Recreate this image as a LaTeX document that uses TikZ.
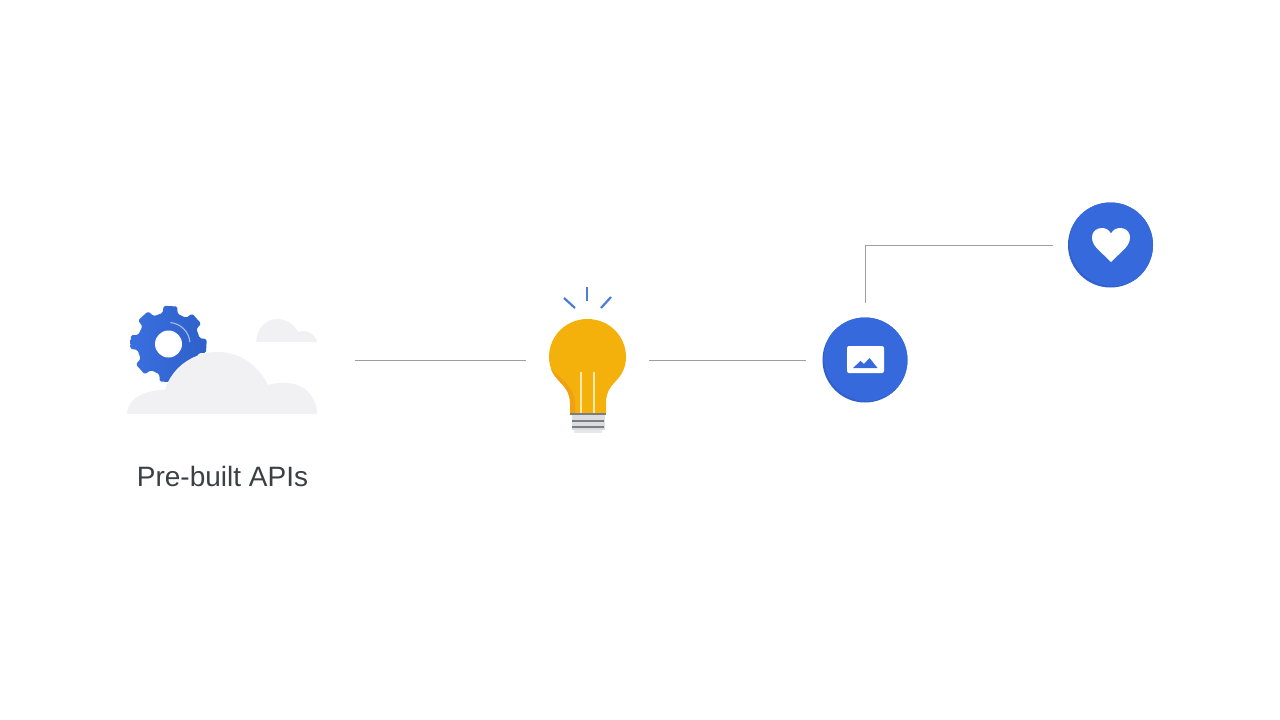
\documentclass[tikz,border=0pt]{standalone}
\usepackage{fontspec}
\setmainfont{Liberation Sans}
\definecolor{gblue}{HTML}{3569DC}
\definecolor{gbluedark}{HTML}{2F60CC}
\definecolor{gearL}{HTML}{3A6FDF}
\definecolor{gearR}{HTML}{2E60C8}
\definecolor{raycol}{HTML}{4A7BDD}
\definecolor{cloudcol}{HTML}{F1F1F3}
\definecolor{linecol}{HTML}{9B9FA3}
\definecolor{bulbcol}{HTML}{F4B10B}
\definecolor{bulbdark}{HTML}{F0A010}
\definecolor{filament}{HTML}{FBE9B0}
\definecolor{basedark}{HTML}{7A7E82}
\definecolor{baselight}{HTML}{DADCDF}
\definecolor{textcol}{HTML}{3C4043}
\tikzset{
  conn/.style={draw=linecol,line width=1pt},
  disc/.style={circle,fill=gbluedark,minimum size=85pt,inner sep=0pt,outer sep=0pt},
  holder/.style={inner sep=0pt,outer sep=0pt,minimum height=10pt},
  ray/.style={draw=raycol,line width=2.2pt},
  fil/.style={draw=filament,line width=1.5pt},
  cloud fill/.style={fill=cloudcol},
}
\begin{document}
\begin{tikzpicture}[x=1pt,y=-1pt]
\useasboundingbox (0,0) rectangle (1280,720);
\fill[white] (0,0) rectangle (1280,720);
\node[holder,minimum width=191pt] (apis) at (222.5,360) {};
\node[holder,minimum width=77pt] (bulb) at (587.5,360) {};
\node[disc] (photo) at (865,360) {};
\node[disc] (heart) at (1110.5,245) {};
\coordinate (corner) at (photo.north |- heart.west);
% gear
\begin{scope}[shift={(168.5,344)}]
\path[rounded corners=1.5pt,left color=gearL,right color=gearR]
  (3-22.5:31.5)
  \foreach \a in {0,45,...,315}{
    -- (\a+3-14:31.5) -- (\a+3-10:38.5) -- (\a+3+10:38.5) -- (\a+3+14:31.5)
  } -- cycle;
\fill[white] (0,0) circle (13.5);
\draw[draw=gearL!45!white,line width=1.1pt] (-85:21.5) arc (-85:-5:21.5);
\end{scope}
% clouds
\fill[cloud fill] (127,414) .. controls (127,400) and (142,390) .. (165,390)
  .. controls (172,366) and (195,352) .. (217,352)
  .. controls (240,352) and (258,365) .. (268,385)
  .. controls (274,383) and (280,383) .. (286,383)
  .. controls (305,383) and (317,398) .. (317,414) -- cycle;
\fill[cloud fill] (256,342) .. controls (257,328) and (266,319) .. (277,319)
  .. controls (286,319) and (294,324) .. (298,332)
  .. controls (307,329) and (315,334) .. (317,342) -- cycle;
% bulb
\fill[bulbcol] (570,413) -- (570,403)
  .. controls (570,393) and (565,387) .. (560,382)
  .. controls (553,375) and (549,367) .. (549,357)
  .. controls (549,336) and (566,319) .. (587.5,319)
  .. controls (609,319) and (626,336) .. (626,357)
  .. controls (626,367) and (622,375) .. (615,382)
  .. controls (610,387) and (606,393) .. (606,403) -- (606,413) -- cycle;
\fill[bulbdark] (570,413) -- (570,403)
  .. controls (570,393) and (565,387) .. (560,382)
  .. controls (556,378) and (553,374) .. (551,369)
  .. controls (556,374) and (562,378) .. (567,384)
  .. controls (572,390) and (575,397) .. (575,403) -- (575,413) -- cycle;
\draw[fil] (581,372) -- (581,413);
\draw[fil] (594,372) -- (594,413);
% bulb base
\fill[baselight] (571.5,414) rectangle (604.5,430);
\fill[baselight!70!white] (574,430) rectangle (602,432.5);
\fill[basedark] (570,413) rectangle (606,415);
\fill[basedark] (572,420) rectangle (604,421.5);
\fill[basedark] (572,426) rectangle (604,427.5);
% rays
\draw[ray] (587,287) -- (587,301);
\draw[ray] (564,298) -- (575,308);
\draw[ray] (611,297) -- (601,308);
% disc highlights
\begin{scope}
\clip (865,360) circle (42.5);
\fill[gblue] (867,358) circle (43);
\end{scope}
\begin{scope}
\clip (1110.5,245) circle (42.5);
\fill[gblue] (1112.5,243) circle (43);
\end{scope}
% photo icon
\fill[white,rounded corners=2pt] (847,346) rectangle (884,373);
\fill[gblue] (853,368) -- (860.5,361) -- (864,364) -- (869.5,358) -- (877.5,368) -- cycle;
% heart icon
\fill[white] (1111,262) -- (1097,248.5)
  .. controls (1088,239) and (1092,228) .. (1102,228)
  .. controls (1106,228) and (1109,230) .. (1111,233.5)
  .. controls (1113,230) and (1116,228) .. (1120,228)
  .. controls (1130,228) and (1134,239) .. (1125,248.5) -- cycle;
% connectors
\draw[conn,shorten <=37pt,shorten >=23pt] (apis.east) -- (bulb.west);
\draw[conn,shorten <=23pt,shorten >=17pt] (bulb.east) -- (photo.west);
\draw[conn,shorten <=15pt,shorten >=15pt] (photo.north) -- (corner) -- (heart.west);
% label
\node[text=textcol,font=\fontsize{28pt}{32pt}\selectfont,inner sep=0pt] (label) at (222.5,476) {Pre-built APIs};
\end{tikzpicture}
\end{document}
